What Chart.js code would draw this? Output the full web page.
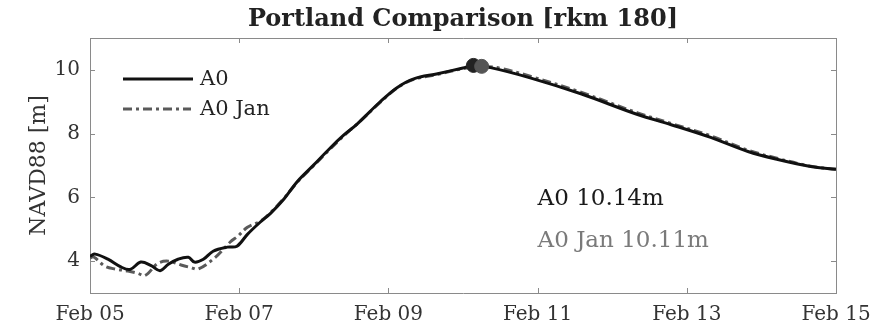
<!DOCTYPE html>
<html><head><meta charset="utf-8">
<script src="https://cdn.jsdelivr.net/npm/chart.js@4"></script>
<style>html,body{margin:0;padding:0;background:#fff}</style>
</head><body>
<canvas id="c" width="887" height="328"></canvas>
<script>
// Days since Feb 05 00:00
const a0Days = [0,0.07,0.24,0.42,0.54,0.68,0.82,0.94,1.05,1.18,1.32,1.40,1.52,1.65,1.84,1.97,2.11,2.28,2.42,2.60,2.78,3.00,3.22,3.40,3.58,3.89,4.12,4.34,4.66,5.00,5.14,5.37,5.90,6.58,7.34,7.79,8.32,8.82,9.22,9.66,10.0];
const a0Values = [4.15,4.22,4.06,3.81,3.74,3.97,3.86,3.70,3.90,4.06,4.12,3.97,4.06,4.31,4.44,4.47,4.84,5.22,5.50,5.95,6.50,7.02,7.55,7.95,8.30,9.00,9.45,9.72,9.88,10.06,10.14,10.07,9.75,9.25,8.60,8.28,7.88,7.44,7.19,6.97,6.88];
const janDays = [0,0.05,0.20,0.34,0.51,0.64,0.74,0.91,1.05,1.22,1.35,1.45,1.68,1.88,1.98,2.11,2.28,2.42,2.60,2.78,3.00,3.22,3.40,3.58,3.89,4.12,4.34,4.66,5.00,5.25,5.50,5.90,6.58,7.34,7.79,8.32,8.82,9.22,9.66,10.0];
const janValues = [4.10,4.13,3.84,3.75,3.69,3.62,3.55,3.93,4.00,3.88,3.80,3.75,4.12,4.60,4.78,5.06,5.25,5.52,5.97,6.48,7.00,7.52,7.93,8.30,8.98,9.44,9.70,9.86,10.04,10.11,10.05,9.80,9.30,8.65,8.32,7.93,7.48,7.22,6.98,6.88];
const peakA0 = [{x:5.14, y:10.14}];
const peakJan = [{x:5.25, y:10.11}];
const xTickValues = [0,2,4,6,8,10];
const xTickLabels = ['Feb 05','Feb 07','Feb 09','Feb 11','Feb 13','Feb 15'];
const yTickValues = [4,6,8,10];
const seriesNames = ['A0','A0 Jan'];
const noteTexts = ['A0 10.14m','A0 Jan 10.11m'];

const SERIF = 'DejaVu Serif';
const BLACK = '#111111';
const GRAY = '#5a5a5a';
const toPts = (xs, ys) => xs.map((x,i)=>({x, y: ys[i]}));

const boxPlugin = {
  id: 'box',
  afterDraw(chart) {
    const {ctx, chartArea: a, scales} = chart;
    ctx.save();
    ctx.strokeStyle = '#8a8a8a';
    ctx.lineWidth = 1;
    ctx.beginPath();
    ctx.moveTo(a.left, a.top + 0.5); ctx.lineTo(a.right + 0.5, a.top + 0.5); ctx.lineTo(a.right + 0.5, a.bottom);
    ctx.stroke();
    const tl = 5;
    ctx.beginPath();
    xTickValues.forEach(v => {
      const px = Math.round(scales.x.getPixelForValue(v)) + 0.5;
      ctx.moveTo(px, a.bottom); ctx.lineTo(px, a.bottom - tl);
      ctx.moveTo(px, a.top); ctx.lineTo(px, a.top + tl);
    });
    yTickValues.forEach(v => {
      const py = Math.round(scales.y.getPixelForValue(v)) + 0.5;
      ctx.moveTo(a.left, py); ctx.lineTo(a.left + tl, py);
      ctx.moveTo(a.right, py); ctx.lineTo(a.right - tl, py);
    });
    ctx.stroke();
    // legend
    ctx.lineCap = 'butt';
    ctx.lineWidth = 3;
    ctx.strokeStyle = BLACK; ctx.setLineDash([]);
    ctx.beginPath(); ctx.moveTo(a.left + 33, a.top + 41); ctx.lineTo(a.left + 103, a.top + 41); ctx.stroke();
    ctx.strokeStyle = GRAY; ctx.setLineDash([9,4,3,4]);
    ctx.beginPath(); ctx.moveTo(a.left + 33, a.top + 71); ctx.lineTo(a.left + 101, a.top + 71); ctx.stroke();
    ctx.setLineDash([]);
    ctx.font = '21px "' + SERIF + '"';
    ctx.textBaseline = 'middle'; ctx.textAlign = 'left';
    ctx.fillStyle = '#222';
    ctx.fillText(seriesNames[0], a.left + 110, a.top + 42);
    ctx.fillText(seriesNames[1], a.left + 110, a.top + 72);
    // notes
    ctx.font = '23px "' + SERIF + '"';
    ctx.fillStyle = '#1a1a1a';
    ctx.fillText(noteTexts[0], scales.x.getPixelForValue(6.0), scales.y.getPixelForValue(5.94));
    ctx.fillStyle = '#7a7a7a';
    ctx.fillText(noteTexts[1], scales.x.getPixelForValue(6.0), scales.y.getPixelForValue(4.63));
    ctx.restore();
  }
};

new Chart(document.getElementById('c'), {
  type: 'scatter',
  data: {
    datasets: [
      {label: seriesNames[1], data: toPts(janDays, janValues), showLine: true, borderColor: GRAY, borderWidth: 3, borderDash: [9,4,3,4], pointRadius: 0, tension: 0.35, order: 2},
      {label: seriesNames[0], data: toPts(a0Days, a0Values), showLine: true, borderColor: BLACK, borderWidth: 3, pointRadius: 0, tension: 0.35, order: 1},
      {label: 'peak A0 Jan', data: peakJan, pointRadius: 7, backgroundColor: '#555', borderColor: '#555', order: 0},
      {label: 'peak A0', data: peakA0, pointRadius: 7, backgroundColor: '#222', borderColor: '#222', order: 0}
    ]
  },
  options: {
    responsive: false,
    animation: false,
    layout: {padding: {left: 0, right: 51, top: 0, bottom: 0}},
    plugins: {
      legend: {display: false},
      tooltip: {enabled: false},
      title: {display: true, text: 'Portland Comparison [rkm 180]', fullSize: false, color: '#222',
        font: {family: SERIF, size: 24, weight: 'bold', lineHeight: 1}, padding: {top: 8, bottom: 6}}
    },
    scales: {
      x: {
        type: 'linear', min: 0, max: 10,
        afterBuildTicks: s => { s.ticks = xTickValues.map(v => ({value: v})); },
        ticks: {callback: v => xTickLabels[xTickValues.indexOf(v)], font: {family: SERIF, size: 20}, color: '#333', padding: 10, maxRotation: 0, autoSkip: false},
        grid: {display: false, drawTicks: false},
        border: {color: '#8a8a8a'},
        afterFit: s => { s.height = 35; }
      },
      y: {
        min: 3, max: 11,
        afterBuildTicks: s => { s.ticks = yTickValues.map(v => ({value: v})); },
        ticks: {font: {family: SERIF, size: 20}, color: '#333', padding: 10},
        grid: {display: false, drawTicks: false},
        border: {color: '#8a8a8a'},
        title: {display: true, text: 'NAVD88 [m]', color: '#333', font: {family: SERIF, size: 22}, padding: {top: 26, bottom: 0}},
        afterFit: s => { s.width = 90; }
      }
    }
  },
  plugins: [boxPlugin]
});
</script>
</body></html>
